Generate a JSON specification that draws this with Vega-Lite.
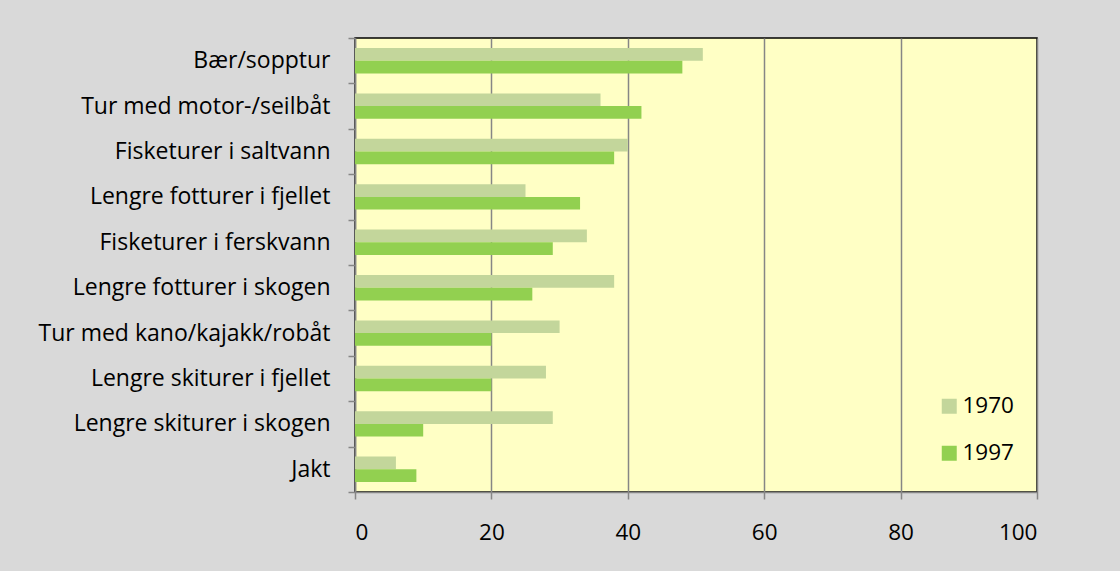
{
  "$schema": "https://vega.github.io/schema/vega-lite/v6.json",
  "width": 682,
  "height": 454,
  "autosize": {"type": "none"},
  "padding": {"left": 355, "top": 38, "right": 83, "bottom": 79},
  "background": "#d9d9d9",
  "config": {
    "font": "Open Sans",
    "view": {"fill": "#ffffc5", "stroke": "#000000", "strokeWidth": 1.5}
  },
  "data": {
    "values": [
      {"aktivitet": "Bær/sopptur", "år": "1970", "prosent": 51},
      {"aktivitet": "Bær/sopptur", "år": "1997", "prosent": 48},
      {"aktivitet": "Tur med motor-/seilbåt", "år": "1970", "prosent": 36},
      {"aktivitet": "Tur med motor-/seilbåt", "år": "1997", "prosent": 42},
      {"aktivitet": "Fisketurer i saltvann", "år": "1970", "prosent": 40},
      {"aktivitet": "Fisketurer i saltvann", "år": "1997", "prosent": 38},
      {"aktivitet": "Lengre fotturer i fjellet", "år": "1970", "prosent": 25},
      {"aktivitet": "Lengre fotturer i fjellet", "år": "1997", "prosent": 33},
      {"aktivitet": "Fisketurer i ferskvann", "år": "1970", "prosent": 34},
      {"aktivitet": "Fisketurer i ferskvann", "år": "1997", "prosent": 29},
      {"aktivitet": "Lengre fotturer i skogen", "år": "1970", "prosent": 38},
      {"aktivitet": "Lengre fotturer i skogen", "år": "1997", "prosent": 26},
      {"aktivitet": "Tur med kano/kajakk/robåt", "år": "1970", "prosent": 30},
      {"aktivitet": "Tur med kano/kajakk/robåt", "år": "1997", "prosent": 20},
      {"aktivitet": "Lengre skiturer i fjellet", "år": "1970", "prosent": 28},
      {"aktivitet": "Lengre skiturer i fjellet", "år": "1997", "prosent": 20},
      {"aktivitet": "Lengre skiturer i skogen", "år": "1970", "prosent": 29},
      {"aktivitet": "Lengre skiturer i skogen", "år": "1997", "prosent": 10},
      {"aktivitet": "Jakt", "år": "1970", "prosent": 6},
      {"aktivitet": "Jakt", "år": "1997", "prosent": 9}
    ]
  },
  "mark": {"type": "bar"},
  "encoding": {
    "y": {
      "field": "aktivitet",
      "type": "nominal",
      "sort": null,
      "scale": {"paddingInner": 0, "paddingOuter": 0},
      "axis": {
        "title": null,
        "tickBand": "extent",
        "tickSize": 7,
        "tickColor": "#868686",
        "tickWidth": 1.5,
        "domainColor": "#868686",
        "domainWidth": 1.5,
        "labelFontSize": 23,
        "labelColor": "#000000",
        "labelPadding": 18,
        "labelLimit": 400
      }
    },
    "yOffset": {
      "field": "år",
      "type": "nominal",
      "scale": {"paddingInner": 0, "paddingOuter": 0.79}
    },
    "x": {
      "field": "prosent",
      "type": "quantitative",
      "scale": {"domain": [0, 100], "nice": false},
      "axis": {
        "title": null,
        "values": [0, 20, 40, 60, 80, 100],
        "grid": true,
        "gridColor": "#868686",
        "gridWidth": 1.5,
        "tickSize": 7,
        "tickColor": "#868686",
        "tickWidth": 1.5,
        "domainColor": "#868686",
        "domainWidth": 1.5,
        "labelFontSize": 22.5,
        "labelColor": "#000000",
        "labelPadding": 22
      }
    },
    "color": {
      "field": "år",
      "type": "nominal",
      "scale": {"domain": ["1970", "1997"], "range": ["#c3d69b", "#92d050"]},
      "legend": {
        "title": null,
        "orient": "none",
        "legendX": 583,
        "legendY": 357,
        "symbolType": "square",
        "symbolSize": 225,
        "symbolStrokeWidth": 0,
        "labelFontSize": 22.5,
        "labelColor": "#000000",
        "labelOffset": 2,
        "rowPadding": 24
      }
    }
  }
}
